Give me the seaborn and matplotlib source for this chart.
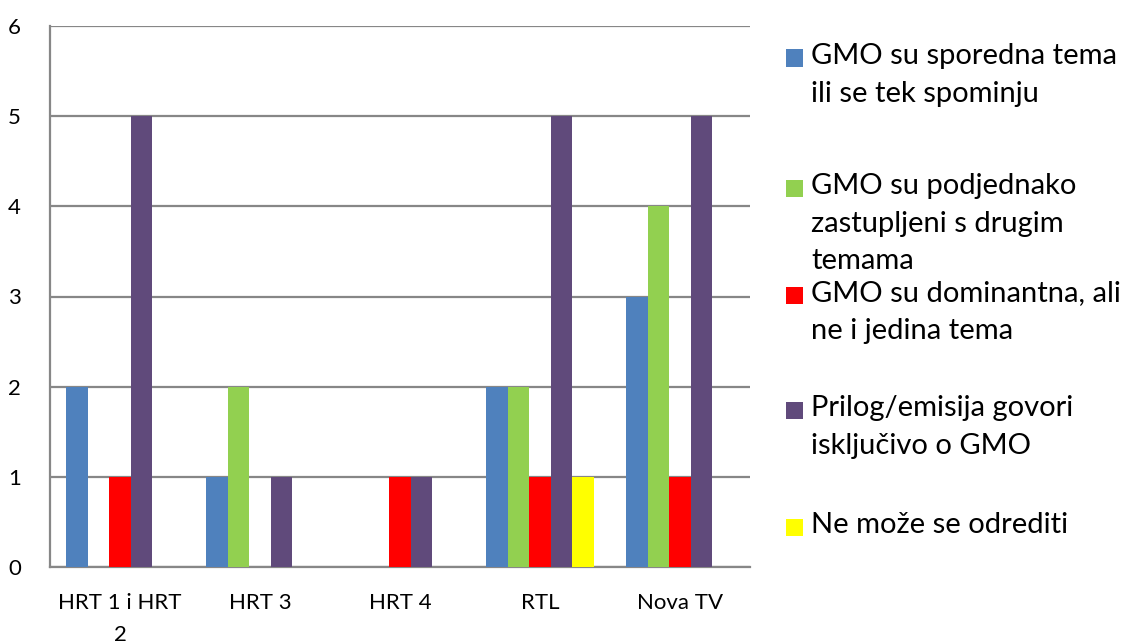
import pandas as pd
import numpy as np
import seaborn as sns
import matplotlib.pyplot as plt
from matplotlib.patches import Rectangle

# data
channels = ['HRT 1 i HRT\n2', 'HRT 3', 'HRT 4', 'RTL', 'Nova TV']
series = ['GMO su sporedna tema\nili se tek spominju',
          'GMO su podjednako\nzastupljeni s drugim\ntemama',
          'GMO su dominantna, ali\nne i jedina tema',
          'Prilog/emisija govori\nisključivo o GMO',
          'Ne može se odrediti']
sporedna = [2, 1, 0, 2, 3]
podjednako = [0, 2, 0, 2, 4]
dominantna = [1, 0, 1, 1, 1]
iskljucivo = [5, 1, 1, 5, 5]
neodredeno = [0, 0, 0, 1, 0]
colors = ['#4F81BD', '#92D050', '#FF0000', '#604A7B', '#FFFF00']

# long form for seaborn
values = [sporedna, podjednako, dominantna, iskljucivo, neodredeno]
rows = []
for s, vals in zip(series, values):
    for c, v in zip(channels, vals):
        rows.append({'channel': c, 'series': s, 'value': v})
df = pd.DataFrame(rows)

sns.set_style('white')
plt.rcParams['font.family'] = ['Lato', 'DejaVu Sans']
plt.rcParams['text.color'] = 'black'
plt.rcParams['xtick.color'] = 'black'
plt.rcParams['ytick.color'] = 'black'

fig = plt.figure(figsize=(11.29, 6.44), dpi=100)
ax = fig.add_axes([50 / 1129, 1 - 567 / 644, 700 / 1129, 541 / 644])

sns.barplot(data=df, x='channel', y='value', hue='series', order=channels,
            hue_order=series, palette=colors, width=0.77, gap=0,
            linewidth=0, saturation=1, legend=False, ax=ax, zorder=3)

gcol = '#878787'
ax.set_ylim(0, 6)
ax.set_xlim(-0.5, len(channels) - 0.5)
ax.set_yticks(range(7))
ax.yaxis.grid(True, color=gcol, linewidth=1.6, zorder=0)
ax.set_axisbelow(True)
for side in ['top', 'right']:
    ax.spines[side].set_visible(False)
for side in ['left', 'bottom']:
    ax.spines[side].set_color(gcol)
    ax.spines[side].set_linewidth(1.6)
ax.set_xlabel('')
ax.set_ylabel('')

ax.tick_params(axis='y', length=9, width=1.6, color=gcol, labelsize=16,
               labelcolor='black', pad=12)
ax.tick_params(axis='x', which='major', length=0, labelsize=16,
               labelcolor='black', pad=19)
ax.set_xticks(np.arange(-0.5, len(channels)), minor=True)
ax.tick_params(axis='x', which='minor', length=9, width=1.6, color=gcol)
for lbl in ax.get_xticklabels():
    lbl.set_linespacing(1.75)

# legend, placed the way the original lays it out
leg_y = [58, 188, 295, 410, 527]
for s, col, y in zip(series, colors, leg_y):
    fig.patches.append(Rectangle((786 / 1129, 1 - (y + 8.5) / 644), 17 / 1129, 17 / 644,
                                 transform=fig.transFigure, facecolor=col,
                                 edgecolor='none'))
    fig.text(811 / 1129, 1 - (y - 15) / 644, s, fontsize=21, va='top', ha='left',
             linespacing=1.55, color='black')

fig.savefig('out.png', dpi=100)
